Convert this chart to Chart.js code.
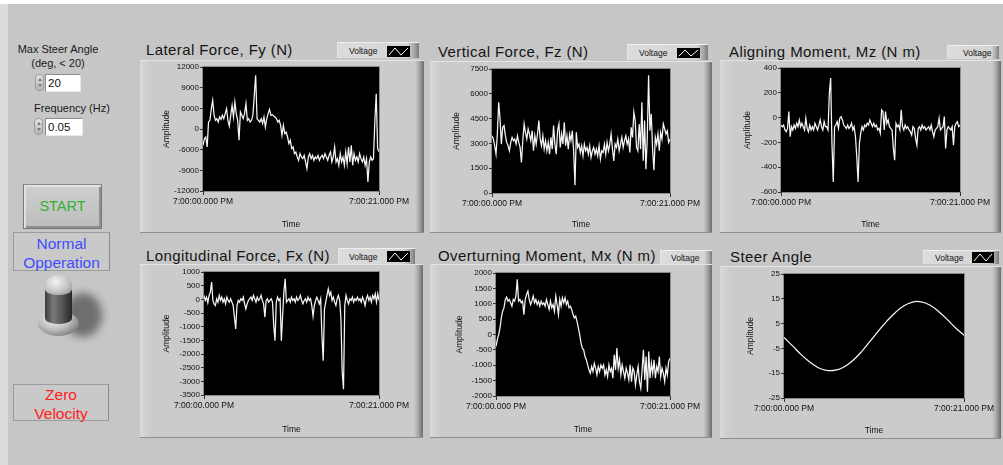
<!DOCTYPE html>
<html><head><meta charset="utf-8">
<script src="https://cdn.jsdelivr.net/npm/chart.js"></script>
<style>
html,body{margin:0;padding:0;width:1003px;height:465px;overflow:hidden;background:#fff;font-family:"Liberation Sans",Arial,sans-serif;}
.abs{position:absolute;}
#bg{position:absolute;left:8px;top:4px;width:995px;height:461px;background:#c6c6c6;}
#lstrip{position:absolute;left:0;top:4px;width:8px;height:461px;background:#dcdcdc;}
.gp{position:absolute;box-sizing:border-box;border-top:1px solid #e4e4e4;border-bottom:1px solid #8e8e8e;
 background:linear-gradient(to right,#dadada 0px,#d0d0d0 6px,#cbcbcb 12px,#cbcbcb calc(100% - 9px),#aaaaaa calc(100% - 5px),#6c6c6c 100%);}
.ttl{position:absolute;font-size:15px;line-height:15px;letter-spacing:0.4px;color:#141414;white-space:nowrap;}
.lg{position:absolute;box-sizing:border-box;border-top:1px solid #efefef;border-left:1px solid #e6e6e6;
 background:linear-gradient(to right,#dcdcdc 0%,#d4d4d4 85%,#a8a8a8 94%,#7a7a7a 100%);font-size:8.5px;color:#111;white-space:nowrap;}
.lg span{position:absolute;top:3px;}
.sw{position:absolute;background:#000;}
.lbl{position:absolute;font-size:11px;line-height:11px;color:#1a1a1a;text-align:center;white-space:nowrap;}
.num{position:absolute;box-sizing:border-box;background:#fff;border-top:1px solid #8a8a8a;border-left:1px solid #8a8a8a;border-right:1px solid #e8e8e8;border-bottom:1px solid #e8e8e8;font-size:11.5px;line-height:16px;padding-left:2px;color:#111;}
.spin{position:absolute;box-sizing:border-box;width:9px;border:1px solid #9a9a9a;border-radius:4px;background:linear-gradient(#e6e6e6,#b4b4b4);}
.spin i{position:absolute;left:1.5px;width:0;height:0;border-left:2.5px solid transparent;border-right:2.5px solid transparent;}
.box{position:absolute;box-sizing:border-box;border:1px solid #9c9c9c;border-right-color:#8a8a8a;background:#c9c9c9;text-align:center;font-size:15.5px;line-height:19px;}
</style>
</head><body>
<div id="bg"></div><div id="lstrip"></div>

<!-- left controls -->
<div class="lbl" style="left:8px;top:44px;width:100px;">Max Steer Angle</div>
<div class="lbl" style="left:8px;top:58px;width:100px;">(deg, &lt; 20)</div>
<div class="spin" style="left:35px;top:74px;height:17px;"><i style="top:3px;border-bottom:3px solid #777"></i><i style="top:9px;border-top:3px solid #777"></i></div>
<div class="num" style="left:45px;top:74px;width:36px;height:18px;">20</div>
<div class="lbl" style="left:22px;top:103px;width:100px;">Frequency (Hz)</div>
<div class="spin" style="left:34px;top:118px;height:17px;"><i style="top:3px;border-bottom:3px solid #777"></i><i style="top:9px;border-top:3px solid #777"></i></div>
<div class="num" style="left:45px;top:118px;width:38px;height:18px;">0.05</div>

<div class="abs" style="left:23px;top:184px;width:79px;height:45px;box-sizing:border-box;border:1px solid #777;border-top-color:#8a8a8a;background:linear-gradient(#cfcfcf,#bdbdbd);box-shadow:inset 2px 2px 0 #e2e2e2, inset -2px -2px 0 #8f8f8f;text-align:center;line-height:43px;font-size:14.5px;color:#30b030;">START</div>

<div class="box" style="left:13px;top:232px;width:97px;height:39px;color:#3d4cff;padding-top:1px;">Normal<br>Opperation</div>

<!-- toggle switch -->
<div class="abs" style="left:64px;top:293px;width:38px;height:44px;border-radius:50%;background:#5f5f5f;filter:blur(4px);opacity:.85;"></div>
<div class="abs" style="left:38px;top:311px;width:41px;height:25px;border-radius:50%;background:radial-gradient(ellipse at 40% 30%,#f6f6f6 0%,#bdbdbd 45%,#7a7a7a 80%,#4a4a4a 100%);"></div>
<div class="abs" style="left:45px;top:286px;width:27px;height:38px;border-radius:0 0 13px 13px/0 0 6px 6px;background:linear-gradient(to right,#3a3a3a,#7a7a7a 30%,#5a5a5a 60%,#262626);"></div>
<div class="abs" style="left:45px;top:275px;width:27px;height:20px;border-radius:13px 13px 12px 12px/10px 10px 6px 6px;background:radial-gradient(ellipse at 40% 35%,#f4f4f4 0%,#c8c8c8 50%,#8a8a8a 100%);"></div>

<div class="box" style="left:13px;top:384px;width:96px;height:37px;color:#ff2020;padding-top:0px;">Zero<br>Velocity</div>

<!-- graph panels -->
<div class="gp" style="left:140px;top:60px;width:284px;height:173px;"></div>
<div class="gp" style="left:430px;top:61px;width:282px;height:172px;"></div>
<div class="gp" style="left:720px;top:60px;width:281px;height:173px;"></div>
<div class="gp" style="left:140px;top:264px;width:283px;height:174px;"></div>
<div class="gp" style="left:430px;top:264px;width:282px;height:174px;"></div>
<div class="gp" style="left:720px;top:266px;width:281px;height:173px;"></div>

<div class="ttl" style="left:146px;top:42px;">Lateral Force, Fy (N)</div>
<div class="ttl" style="left:438px;top:44px;">Vertical Force, Fz (N)</div>
<div class="ttl" style="left:729px;top:44px;">Aligning Moment, Mz (N m)</div>
<div class="ttl" style="left:146px;top:248px;">Longitudinal Force, Fx (N)</div>
<div class="ttl" style="left:438px;top:248px;">Overturning Moment, Mx (N m)</div>
<div class="ttl" style="left:730px;top:249px;">Steer Angle</div>

<div class="lg" style="left:337px;top:42px;width:82px;height:16px;"><span style="left:11px">Voltage</span></div>
<div class="lg" style="left:627px;top:44px;width:81px;height:16px;"><span style="left:11px">Voltage</span></div>
<div class="lg" style="left:947px;top:45px;width:52px;height:14px;"><span style="left:15px;top:2px">Voltage</span></div>
<div class="lg" style="left:338px;top:248px;width:77px;height:16px;"><span style="left:10px">Voltage</span></div>
<div class="lg" style="left:660px;top:250px;width:52px;height:14px;"><span style="left:10px;top:2px">Voltage</span></div>
<div class="lg" style="left:923px;top:250px;width:76px;height:14px;"><span style="left:11px;top:2px">Voltage</span></div>

<svg class="sw" style="left:387px;top:46px;" width="23" height="11"><polyline points="2,9 8,2 14,9 21,2" fill="none" stroke="#fff" stroke-width="1"/></svg>
<svg class="sw" style="left:677px;top:48px;" width="23" height="10"><polyline points="2,8 8,2 14,8 21,2" fill="none" stroke="#fff" stroke-width="1"/></svg>
<svg class="sw" style="left:387px;top:251px;" width="23" height="11"><polyline points="2,9 8,2 14,9 21,2" fill="none" stroke="#fff" stroke-width="1"/></svg>
<svg class="sw" style="left:972px;top:252px;" width="22" height="11"><polyline points="2,9 8,2 14,9 20,2" fill="none" stroke="#fff" stroke-width="1"/></svg>

<script>
// ---- data ----
const timeLabels = ['7:00:00.000 PM', '7:00:21.000 PM'];
const timeSpan = [0, 21];

const lateralFy = [-3160,-1870,-1545,-3480,1360,1680,3940,5550,2650,1680,2000,1360,2330,1870,2650,2000,2970,3940,1680,580,2650,4580,2330,5230,2970,1680,-2190,3290,2650,2000,2970,4900,1680,2000,1360,1680,2650,6520,10390,2000,1680,1360,2000,1040,2330,390,2000,2970,3810,2650,2780,2520,2330,2000,1360,1680,710,-1220,710,-900,-580,-1550,-2840,-2190,-3800,-3480,-4770,-4450,-5420,-6060,-4770,-5420,-5740,-5090,-6380,-7670,-5420,-4770,-5740,-5090,-6060,-5420,-5740,-5090,-6060,-5420,-5090,-5740,-4770,-5420,-6060,-5090,-4450,-6380,-5420,-3480,-6380,-5740,-7030,-4770,-6380,-5420,-7030,-4450,-6710,-3480,-6380,-3160,-7030,-4770,-6060,-5420,-6380,-4770,-5740,-6380,-5420,-7030,-5740,-10250,-6380,-5420,-6060,-5740,1500,6840,-3800,-4390];
const lateralTicks = [-12000,-8000,-4000,0,4000,8000,12000];
const lateralTickLabels = ['-12000','-9000','-6000','0','6000','9000','12000'];

const verticalFz = [3466,3263,2858,2351,3567,5493,4480,2959,3973,4074,3466,3061,2858,2554,3061,3365,3162,3263,2959,3466,3061,2757,1845,3162,4176,3669,3263,3872,3567,3162,3770,2554,3466,2959,3567,4379,3263,2858,3466,2655,3162,2554,3061,2351,3365,2655,4074,2959,2351,3770,4176,2757,3567,2959,4277,2858,3466,2655,3567,3162,3770,2554,470,3669,2757,2959,2453,2858,2250,2959,2554,2757,2351,2858,2149,2554,2757,2351,2655,2250,2858,2047,2554,2453,2959,2351,3061,2554,2959,3567,2655,1946,2959,2757,3263,2554,2959,3365,2757,3162,3466,2959,3263,2453,3973,3365,4885,4379,2757,2554,4176,2655,5493,1946,4379,1440,3263,7115,3770,4784,2655,1380,3365,2959,3567,2554,3669,3263,4176,3872,3567,3770,3061,3263];
const verticalTicks = [0,1500,3000,4500,6000,7500];
const verticalTickLabels = ['0','1500','3000','4500','6000','7500'];

const aligningMz = [-60,-73,-60,-100,-114,-87,49,-154,-73,-100,-60,-87,-46,-73,-19,-73,-46,-73,-100,-5,-87,-114,-60,-100,-73,-100,-46,-73,-100,-60,-19,-73,-100,-32,-73,-73,-100,197,319,-208,-519,-73,-60,-32,-87,-5,8,-19,-60,-73,-87,-60,-87,-73,-46,-100,-73,-154,-316,-519,-208,-127,-73,-100,-60,-73,-46,-60,-19,-46,-73,-46,-73,-60,-100,-87,-127,62,49,-100,49,-46,-19,-73,-87,-100,-249,-343,-46,-73,-60,-100,62,-73,-100,-60,-87,-73,-100,-114,-141,-73,-87,-168,-222,-87,-73,-100,-60,-87,-73,-100,-87,-73,-100,-60,-114,-154,-100,-87,-73,-5,-100,-87,-73,8,-249,-100,-73,-87,-100,-73,-222,-73,-46,-32,-73,-60];
const aligningTicks = [-600,-400,-200,0,200,400];
const aligningTickLabels = ['-600','-400','-200','0','200','400'];

const longitudinalFx = [142,-42,80,-128,142,264,632,-42,-165,-226,19,-103,142,-42,80,-103,19,-165,80,-42,-103,19,-103,-226,-655,-1084,-226,-42,-103,19,-42,80,-165,-349,-165,-42,19,80,-42,142,19,-103,80,-42,19,142,-42,-165,-655,-42,19,-103,-42,19,-103,-962,-1513,-103,80,-42,19,-1513,-594,264,755,-103,-42,19,-103,80,-42,19,-103,80,-42,19,142,-42,-165,-42,19,-103,80,-42,19,-226,-618,-226,-42,80,-42,-165,19,-1330,-2249,-349,-103,142,387,142,264,-42,80,-103,-226,19,142,-42,-716,-2678,-3291,-226,142,-42,-165,19,-42,80,-103,19,-42,80,-42,19,-103,80,-42,-226,19,142,-42,80,-103,142,19,203,-103,203,-42];
const longitudinalTicks = [-3500,-3000,-2500,-2000,-1500,-1000,-500,0,500,1000];
const longitudinalTickLabels = ['-3500','-3000','-2500','-2000','-1500','-1000','-500','0','500','1000'];

const overturningMx = [-387,-169,-6,212,539,757,866,1139,1215,1084,1139,1030,921,1139,1084,1248,1793,1084,1139,1030,1084,648,1139,1302,1411,1139,975,1084,1248,1030,1139,975,1084,921,1084,975,1030,921,1139,975,812,1084,866,975,757,1248,975,648,1139,921,1193,1030,1193,975,1084,866,921,812,648,539,594,430,212,-6,-278,-442,-496,-714,-823,-987,-1150,-1259,-1041,-1205,-932,-1096,-1314,-1041,-1205,-987,-1096,-987,-1314,-1150,-1368,-987,-1205,-1096,-1423,-660,-1150,-442,-1096,-823,-1314,-987,-1205,-1423,-1096,-1259,-1477,-987,-1532,-1096,-1205,-1641,-1314,-1041,-1532,-1750,-1150,-496,-1477,-714,-1859,-551,-1423,-932,-1259,-823,-1423,-1041,-1205,-714,-1368,-1096,-1259,-1532,-1096,-1314,-878,-769];
const overturningTicks = [-2000,-1500,-1000,-500,0,500,1000,1500,2000];
const overturningTickLabels = ['-2000','-1500','-1000','-500','0','500','1000','1500','2000'];

const steerAngle = [-0.6,-4,-7.5,-10.5,-12.8,-13.9,-13.8,-12.5,-10,-6.5,-2.3,2,6,9.5,12.2,13.7,13.8,12.5,10,6.8,3.3,0.3];
const steerTicks = [-25,-15,-5,5,15,25];
const steerTickLabels = ['-25','-15','-5','5','15','25'];

// ---- drawing ----
const FONT = 'Liberation Sans';
const plotBg = {
  id: 'plotBg',
  beforeDraw(ch) {
    const a = ch.chartArea, c = ch.ctx;
    c.save();
    c.fillStyle = '#000';
    c.fillRect(a.left, a.top, a.right - a.left, a.bottom - a.top);
    c.strokeStyle = '#8c8c8c'; c.lineWidth = 1;
    c.strokeRect(a.left - 0.5, a.top - 0.5, a.right - a.left + 1, a.bottom - a.top + 1);
    c.restore();
  }
};

function addChart(panel, plot, values, ticks, tickLabels, tension, ampOffset) {
  const w = panel.r - panel.l, h = panel.b - panel.t;
  const cv = document.createElement('canvas');
  cv.width = w; cv.height = h;
  cv.style.cssText = 'position:absolute;left:' + panel.l + 'px;top:' + panel.t + 'px;width:' + w + 'px;height:' + h + 'px;';
  document.body.appendChild(cv);
  const n = values.length;
  const pts = values.map((v, i) => ({ x: timeSpan[0] + (timeSpan[1] - timeSpan[0]) * i / (n - 1), y: v }));
  new Chart(cv, {
    type: 'line',
    data: { datasets: [{ data: pts, borderColor: '#f6f6f6', borderWidth: 1.25, pointRadius: 0, tension: tension, fill: false }] },
    options: {
      responsive: false, animation: false, devicePixelRatio: 1,
      layout: { padding: { top: plot.t - panel.t, right: panel.r - plot.r, left: 0, bottom: 0 } },
      plugins: { legend: { display: false }, tooltip: { enabled: false } },
      scales: {
        x: {
          type: 'linear', min: timeSpan[0], max: timeSpan[1],
          afterBuildTicks: s => { s.ticks = timeSpan.map(v => ({ value: v })); },
          afterFit: s => { s.height = panel.b - plot.b; },
          ticks: { callback: (v, i) => timeLabels[i], autoSkip: false, maxRotation: 0, padding: 2, color: '#111', font: { family: FONT, size: 8.5 } },
          grid: { drawOnChartArea: false, drawTicks: true, tickLength: 4, color: '#333' },
          border: { display: false },
          title: { display: true, text: 'Time', color: '#111', font: { family: FONT, size: 8.5 }, padding: { top: 0, bottom: 3 } }
        },
        y: {
          type: 'linear', min: ticks[0], max: ticks[ticks.length - 1],
          afterBuildTicks: s => { s.ticks = ticks.map(v => ({ value: v })); },
          afterFit: s => { s.width = plot.l - panel.l; },
          ticks: { callback: (v, i) => tickLabels[i], autoSkip: false, padding: 1, color: '#111', font: { family: FONT, size: 8 } },
          grid: { drawOnChartArea: false, drawTicks: true, tickLength: 3, color: '#333' },
          border: { display: false },
          title: { display: true, text: 'Amplitude', color: '#111', font: { family: FONT, size: 8.5 }, padding: { top: ampOffset - 5.1, bottom: 0 } }
        }
      }
    },
    plugins: [plotBg]
  });
}

addChart({l:140,t:60,r:424,b:233}, {l:203,t:67,r:379,b:191}, lateralFy, lateralTicks, lateralTickLabels, 0, 26.7);
addChart({l:430,t:61,r:712,b:233}, {l:492,t:69,r:670,b:193}, verticalFz, verticalTicks, verticalTickLabels, 0, 26.7);
addChart({l:720,t:60,r:1001,b:233}, {l:781,t:68,r:960,b:192}, aligningMz, aligningTicks, aligningTickLabels, 0, 28);
addChart({l:140,t:264,r:423,b:438}, {l:204,t:272,r:379,b:395}, longitudinalFx, longitudinalTicks, longitudinalTickLabels, 0, 26.7);
addChart({l:430,t:264,r:712,b:438}, {l:496,t:273,r:670,b:396}, overturningMx, overturningTicks, overturningTickLabels, 0, 29.3);
addChart({l:720,t:266,r:1001,b:439}, {l:784,t:274,r:964,b:398}, steerAngle, steerTicks, steerTickLabels, 0.4, 30.7);
</script>
</body></html>
